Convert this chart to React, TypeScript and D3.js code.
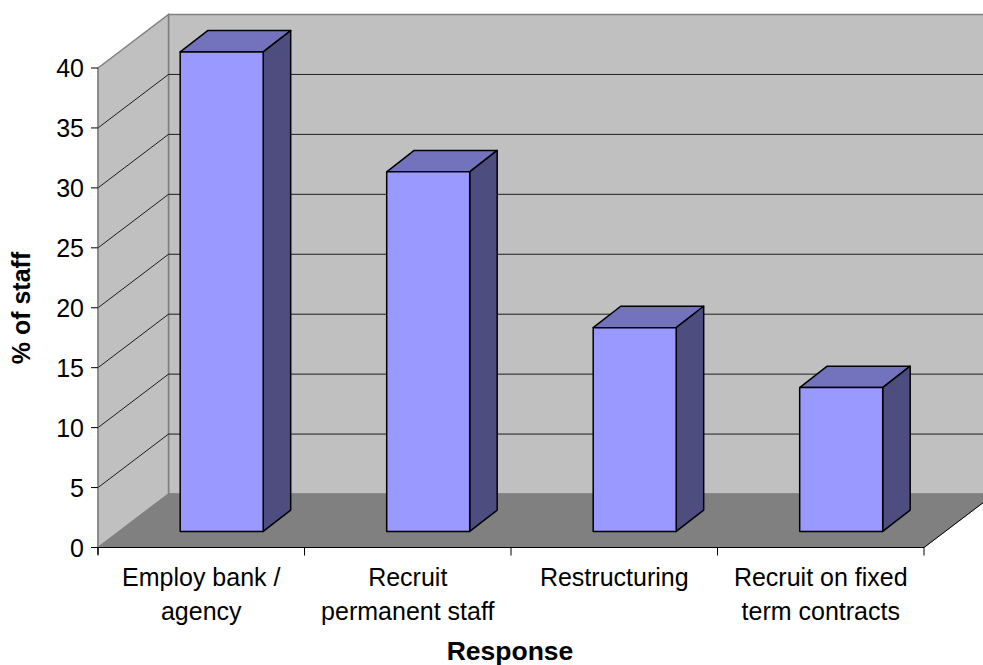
import React from "react";
import * as d3 from "d3";

// Survey responses and their share of staff
const categories = ["Employ bank / agency", "Recruit permanent staff", "Restructuring", "Recruit on fixed term contracts"];
const categoryLines = [["Employ bank /", "agency"], ["Recruit", "permanent staff"], ["Restructuring"], ["Recruit on fixed", "term contracts"]];
const staffPercent = [40, 30, 17, 12];
const yTicks = [0, 5, 10, 15, 20, 25, 30, 35, 40];

const width = 983;
const height = 665;

// Oblique projection of the chart box
const plotLeft = 98;
const plotRight = 924;
const floorY = 547.5;
const topY = 68;
const depthX = 70.5;
const depthY = -53.5;

// Bars stand part way into the box
const barW = 83;
const barDepthX = depthX * 0.39;
const barDepthY = depthY * 0.4;
const barShiftX = depthX * 0.29;
const barShiftY = depthY * 0.3;

const y = d3.scaleLinear().domain([0, 40]).range([floorY, topY]);
const x = d3.scaleBand<string>().domain(categories).range([plotLeft, plotRight]).paddingInner(0).paddingOuter(0);

const poly = (pts: [number, number][]) => {
  const p = d3.path();
  pts.forEach(([a, b], i) => (i ? p.lineTo(a, b) : p.moveTo(a, b)));
  p.closePath();
  return p.toString();
};

const font = "'Liberation Sans', Arial, sans-serif";

export default function App() {
  return (
    <svg width={width} height={height} style={{ position: "absolute", left: 0, top: 0, background: "#fff" }}>
      {/* Walls and floor */}
      <path d={poly([[plotLeft + depthX, y(40) + depthY], [plotRight + depthX, y(40) + depthY], [plotRight + depthX, floorY + depthY], [plotLeft + depthX, floorY + depthY]])} fill="#c0c0c0" stroke="#808080" strokeWidth={1.5} />
      <path d={poly([[plotLeft, y(40)], [plotLeft + depthX, y(40) + depthY], [plotLeft + depthX, floorY + depthY], [plotLeft, floorY]])} fill="#c0c0c0" stroke="#808080" strokeWidth={1.5} />
      <path d={poly([[plotLeft, floorY], [plotLeft + depthX, floorY + depthY], [plotRight + depthX, floorY + depthY], [plotRight, floorY]])} fill="#808080" stroke="#808080" strokeWidth={1} />

      {/* Gridlines running along the side and back walls */}
      {yTicks.slice(1, -1).map((t) => (
        <path key={t} d={`M${plotLeft},${y(t)}L${plotLeft + depthX},${y(t) + depthY}L${plotRight + depthX},${y(t) + depthY}`} fill="none" stroke="#000" strokeWidth={1} opacity={0.85} />
      ))}
      <path d={`M${plotLeft},${y(0)}L${plotRight},${y(0)}L${plotRight + depthX},${y(0) + depthY}`} fill="none" stroke="#000" strokeWidth={1} />

      {/* Bars */}
      {categories.map((c, i) => {
        const left = (x(c) as number) + x.bandwidth() / 2 - barW / 2 + barShiftX;
        const right = left + barW;
        const base = y(0) + barShiftY;
        const top = y(staffPercent[i]) + barShiftY;
        return (
          <g key={c} stroke="#000" strokeWidth={1.5} strokeLinejoin="round">
            <path d={poly([[left, top], [right, top], [right + barDepthX, top + barDepthY], [left + barDepthX, top + barDepthY]])} fill="#7373bd" />
            <path d={poly([[right, top], [right + barDepthX, top + barDepthY], [right + barDepthX, base + barDepthY], [right, base]])} fill="#4d4d80" />
            <path d={poly([[left, top], [right, top], [right, base], [left, base]])} fill="#9999ff" />
          </g>
        );
      })}

      {/* Value axis */}
      <line x1={plotLeft} x2={plotLeft} y1={y(40)} y2={y(0) + 7} stroke="#808080" strokeWidth={1} />
      <line x1={plotLeft} x2={plotLeft} y1={y(0)} y2={y(0) + 7} stroke="#000" />
      {yTicks.map((t) => (
        <g key={t}>
          <line x1={plotLeft - 7} x2={plotLeft} y1={y(t)} y2={y(t)} stroke="#000" />
          <text x={plotLeft - 14} y={y(t) + 9} textAnchor="end" fontFamily={font} fontSize={25} fill="#000">{t}</text>
        </g>
      ))}

      {/* Category axis */}
      {[...categories.map((c) => x(c) as number), plotRight].map((v, i) => (
        <line key={i} x1={v} x2={v} y1={y(0)} y2={y(0) + 8} stroke="#000" />
      ))}
      {categories.map((c, i) => (
        <text key={c} textAnchor="middle" fontFamily={font} fontSize={25} fill="#000">
          {categoryLines[i].map((l, j) => (
            <tspan key={l} x={(x(c) as number) + x.bandwidth() / 2} y={586 + j * 33.5}>{l}</tspan>
          ))}
        </text>
      ))}

      {/* Axis titles */}
      <text x={510} y={660} textAnchor="middle" fontFamily={font} fontSize={26.5} fontWeight="bold" fill="#000">Response</text>
      <text transform="translate(30,308) rotate(-90)" textAnchor="middle" fontFamily={font} fontSize={25} fontWeight="bold" fill="#000">% of staff</text>
    </svg>
  );
}
